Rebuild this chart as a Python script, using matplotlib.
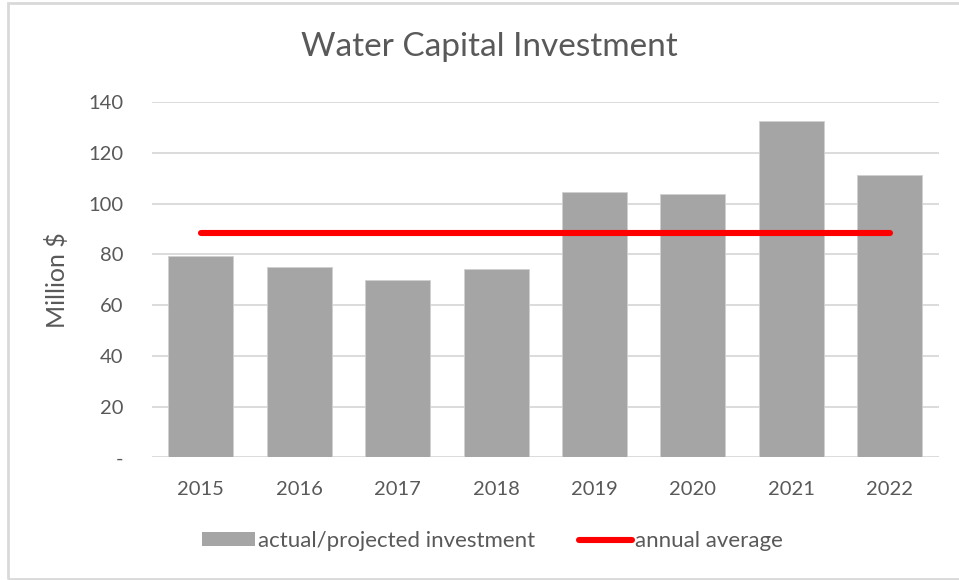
import matplotlib
matplotlib.use("Agg")
import matplotlib.pyplot as plt
from matplotlib.patches import Rectangle, Patch
from matplotlib.lines import Line2D

years = ["2015", "2016", "2017", "2018", "2019", "2020", "2021", "2022"]
investment = [79.5, 74.9, 69.8, 74.2, 104.7, 103.7, 132.5, 111.2]
annual_average = [88.2] * len(years)
yticks = [0, 20, 40, 60, 80, 100, 120, 140]
ytick_labels = ["-", "20", "40", "60", "80", "100", "120", "140"]

plt.rcParams['font.family'] = ['Lato', 'DejaVu Sans']
txt = "#595959"
W, H = 959, 580
fig = plt.figure(figsize=(W / 100, H / 100), dpi=100)
fig.patch.set_facecolor("white")

# outer chart border
fig.add_artist(Rectangle((8 / W, 1 / H), (W + 5 - 8) / W, (H - 4) / H,
                         transform=fig.transFigure, fill=False,
                         edgecolor="#D9D9D9", linewidth=2))

ax = fig.add_axes([151.7 / W, 1 - 457.3 / H, (939 - 151.7) / W, (457.3 - 102) / H])
x = list(range(len(years)))
ax.bar(x, investment, width=0.66, color="#A5A5A5", edgecolor="#D0D0D0",
       linewidth=0.6, zorder=2)
ax.plot(x, annual_average, color="#FF0000", linewidth=4.4,
        solid_capstyle="round", zorder=3)

ax.set_xlim(-0.5, len(years) - 0.5)
ax.set_ylim(0, 140)
ax.set_yticks(yticks)
ax.set_yticklabels(ytick_labels)
ax.set_xticks(x)
ax.set_xticklabels(years)
ax.grid(axis="y", color="#D9D9D9", linewidth=1.3, zorder=0)
ax.set_axisbelow(True)
for s in ax.spines.values():
    s.set_visible(False)
ax.tick_params(axis="both", length=0, labelsize=14.5, colors=txt)
ax.tick_params(axis="y", pad=20.5)
ax.tick_params(axis="x", pad=17)
ax.set_ylabel("Million $", fontsize=18, color=txt, labelpad=14)

fig.text(489 / W, 1 - 47 / H, "Water Capital Investment", ha="center",
         va="center", fontsize=24, color=txt)

handles = [Patch(facecolor="#A5A5A5", edgecolor="none"),
           Line2D([0], [0], color="#FF0000", linewidth=4.4, solid_capstyle="round")]
fig.legend(handles, ["actual/projected investment", "annual average"],
           loc="center", bbox_to_anchor=(492.5 / W, 1 - 541 / H), ncol=2,
           frameon=False, fontsize=16, labelcolor=txt, handlelength=2.4,
           handleheight=0.55, handletextpad=0.15, columnspacing=1.95)

fig.savefig("out.png", dpi=100)
